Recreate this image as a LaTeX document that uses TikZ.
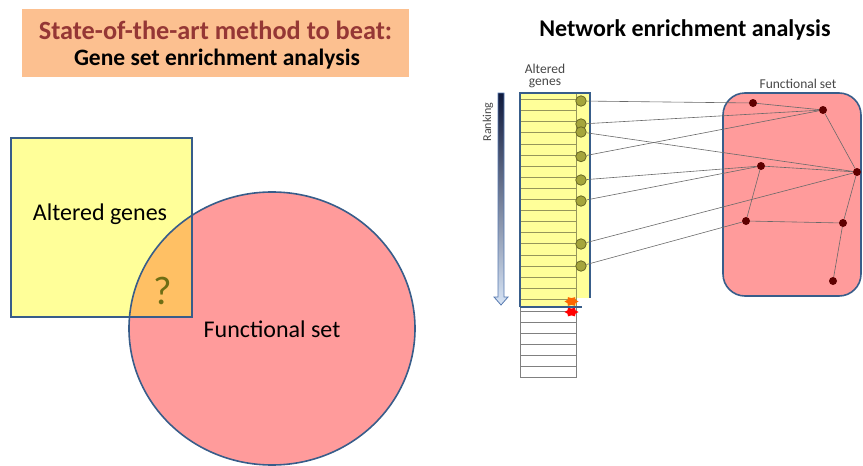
\documentclass[tikz,border=0pt]{standalone}
\usepackage{fontspec}
\setmainfont{Carlito}
\definecolor{edgeblue}{RGB}{56,93,138}
\definecolor{setyellow}{RGB}{255,255,153}
\definecolor{setpink}{RGB}{255,155,155}
\definecolor{overlap}{RGB}{255,192,100}
\definecolor{titlebg}{RGB}{252,192,144}
\definecolor{titlered}{RGB}{149,55,53}
\definecolor{rowline}{RGB}{150,150,90}
\definecolor{genefill}{RGB}{165,165,60}
\definecolor{genedraw}{RGB}{105,105,35}
\definecolor{netnode}{RGB}{95,0,0}
\definecolor{linkgray}{RGB}{105,105,105}
\definecolor{qmark}{RGB}{110,110,20}
\definecolor{labelgray}{RGB}{70,70,70}
\definecolor{cutorange}{RGB}{255,102,0}
\tikzset{
  gene/.style={circle,fill=genefill,draw=genedraw,line width=0.8pt,inner sep=0pt,minimum size=10.5pt},
  netdot/.style={circle,fill=netnode,inner sep=0pt,minimum size=8pt},
  link/.style={draw=linkgray,line width=0.6pt},
  setborder/.style={draw=edgeblue,line width=1.6pt},
}
% six-pointed burst used as a cut-off mark
\newcommand{\cutburst}[2]{%
  \fill[#2,shift={#1}] plot[samples at={0,30,...,330}]
    ({(mod(\x,60)==0 ? 7 : 4.6)*cos(\x)},{(mod(\x,60)==0 ? 5 : 3.4)*sin(\x)}) -- cycle;}
\begin{document}
\begin{tikzpicture}[x=1pt,y=-1pt]
\useasboundingbox (0,0) rectangle (863,466);

% ---- left panel: title box
\fill[titlebg] (22,9) rectangle (409,77);
\node[font=\bfseries\fontsize{26.3}{28}\selectfont,text=titlered] (t1) at (215.5,30) {State-of-the-art method to beat:};
\node[font=\bfseries\fontsize{23.5}{26}\selectfont] (t2) at (217,59) {Gene set enrichment analysis};

% ---- left panel: set overlap
\fill[setyellow] (11,138) rectangle (192,317);
\fill[setpink] (272,328.5) ellipse [x radius=143, y radius=136.5];
\begin{scope}
  \clip (11,138) rectangle (192,317);
  \fill[overlap] (272,328.5) ellipse [x radius=143, y radius=136.5];
\end{scope}
\draw[setborder] (11,138) rectangle (192,317);
\draw[setborder] (272,328.5) ellipse [x radius=143, y radius=136.5];
\node[font=\fontsize{24}{26}\selectfont] (ag) at (100,214) {Altered genes};
\node[font=\fontsize{40}{42}\selectfont,text=qmark] (q) at (163,291) {?};
\node[font=\fontsize{24}{26}\selectfont] (fs) at (272,329) {Functional set};

% ---- right panel
\node[font=\bfseries\fontsize{24}{26}\selectfont] (t3) at (685,30) {Network enrichment analysis};

% ranked gene column
\fill[setyellow] (520,93) rectangle (576,306);
\fill[setyellow] (576,93) rectangle (590,298);
\foreach \k in {0,...,18} {
  \draw[rowline,line width=0.8pt] (520,99.5+11.1*\k) -- (576,99.5+11.1*\k);
}
\draw[rowline,line width=0.8pt] (576,93) -- (576,306);
% genes below the cut-off
\draw[gray,line width=0.8pt] (520,307) -- (520,377) -- (576,377) -- (576,307);
\foreach \y in {311.5,322.5,333.5,344.5,355.5,366.5} {
  \draw[gray,line width=0.8pt] (520,\y) -- (576,\y);
}
\draw[setborder] (520,307) -- (520,93) -- (590,93) -- (590,298);
% cut-off marks
\cutburst{(571.5,301.5)}{cutorange}
\cutburst{(571.5,312)}{red}
\draw[setborder] (520,307) -- (582,307);

\node[font=\fontsize{13.5}{13}\selectfont,text=labelgray,align=center] (agl) at (545,76) {Altered\\[-1pt]genes};

% ranking arrow
\shade[top color={rgb,255:red,15;green,25;blue,60},bottom color={rgb,255:red,215;green,228;blue,245},draw={rgb,255:red,85;green,120;blue,175},line width=0.8pt]
  (498,93) -- (504,93) -- (504,297) -- (508,297) -- (501,305) -- (494,297) -- (498,297) -- cycle;
\node[font=\fontsize{12}{12}\selectfont,rotate=90,text=labelgray] (rk) at (488,122) {Ranking};

% gene markers
\foreach \i/\y in {1/101,2/124,3/132,4/156.5,5/180,6/201,7/244,8/266} {
  \node[gene] (g\i) at (581,\y) {};
}

% functional set with its network
\draw[setborder,fill=setpink,rounded corners=22pt] (723,93) rectangle (861,296);
\node[font=\fontsize{13.5}{13}\selectfont,text=labelgray] (fsl) at (798,84) {Functional set};
\node[netdot] (nA) at (753,103) {};
\node[netdot] (nB) at (823,110) {};
\node[netdot] (nC) at (857,172) {};
\node[netdot] (nD) at (761,166) {};
\node[netdot] (nE) at (746,221) {};
\node[netdot] (nF) at (843,223) {};
\node[netdot] (nG) at (833,281) {};

\foreach \a/\b in {nA/nB,nB/nC,nD/nC,nD/nE,nE/nF,nF/nC,nF/nG} {
  \path[link] (\a) -- (\b);
}
\foreach \a/\b in {g1/nA,g2/nB,g3/nC,g4/nB,g5/nD,g6/nD,g7/nC,g8/nE} {
  \path[link] (\a) -- (\b);
}
\end{tikzpicture}
\end{document}
